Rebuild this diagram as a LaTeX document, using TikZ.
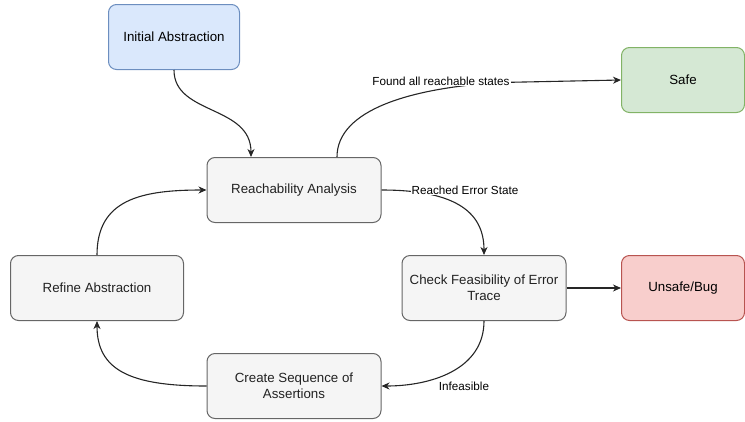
\documentclass[tikz,border=0pt]{standalone}
\usepackage{fontspec}
\setmainfont{Liberation Sans}
\usetikzlibrary{arrows.meta}
\definecolor{grayfill}{HTML}{F5F5F5}
\definecolor{graystroke}{HTML}{666666}
\definecolor{bluefill}{HTML}{DAE8FC}
\definecolor{bluestroke}{HTML}{6C8EBF}
\definecolor{greenfill}{HTML}{D5E8D4}
\definecolor{greenstroke}{HTML}{82B366}
\definecolor{redfill}{HTML}{F8CECC}
\definecolor{redstroke}{HTML}{B85450}
\definecolor{txt}{HTML}{222222}
\tikzset{
  box/.style={draw=graystroke, fill=grayfill, rounded corners=8pt, line width=1pt,
    minimum width=174pt, minimum height=65pt, inner sep=0pt, align=center,
    text=txt, font=\fontsize{13.3}{16}\selectfont},
  bluebox/.style={box, draw=bluestroke, fill=bluefill, minimum width=131pt, text=black},
  greenbox/.style={box, draw=greenstroke, fill=greenfill, minimum width=123pt, text=black},
  redbox/.style={box, draw=redstroke, fill=redfill, minimum width=123pt, text=black},
  conn/.style={draw=black!85, line width=1.1pt, -{Stealth[length=8pt,width=7pt,inset=2.5pt]}},
  elabel/.style={fill=white, inner sep=1pt, font=\fontsize{11.7}{14}\selectfont, text=black}
}
\begin{document}
\begin{tikzpicture}[x=1pt,y=-1pt]
\useasboundingbox (0,0) rectangle (745,421);
\node[bluebox] (init) at (174,37) {Initial Abstraction};
\node[box] (reach) at (294,190) {Reachability Analysis};
\node[greenbox] (safe) at (683,80) {Safe};
\node[box, minimum width=164pt] (check) at (484,288) {Check Feasibility of Error\\Trace};
\node[redbox] (unsafe) at (683,288) {Unsafe/Bug};
\node[box, minimum width=173pt] (refine) at (97,288) {Refine Abstraction};
\node[box] (create) at (294,386) {Create Sequence of\\Assertions};

\draw[conn] (init.south) .. controls (174,115) and (251,105) .. ([xshift=-43pt]reach.north);
\draw[conn] ([xshift=43pt]reach.north) .. controls (337,110) and (410,88) .. (500,82.5) -- (safe.west);
\draw[conn] (reach.east) .. controls (460,190) and (484,215) .. (check.north);
\draw[conn] (check.east) -- (unsafe.west);
\draw[conn] (check.south) .. controls (484,370) and (430,386) .. (create.east);
\draw[conn] (create.west) .. controls (130,386) and (97,370) .. (refine.south);
\draw[conn] (refine.north) .. controls (97,200) and (140,190) .. (reach.west);

\node[elabel] (lfound) at (441,81) {Found all reachable states};
\node[elabel] (lreach) at (465,190) {Reached Error State};
\node[elabel] (linf) at (464,386) {Infeasible};
\end{tikzpicture}
\end{document}
